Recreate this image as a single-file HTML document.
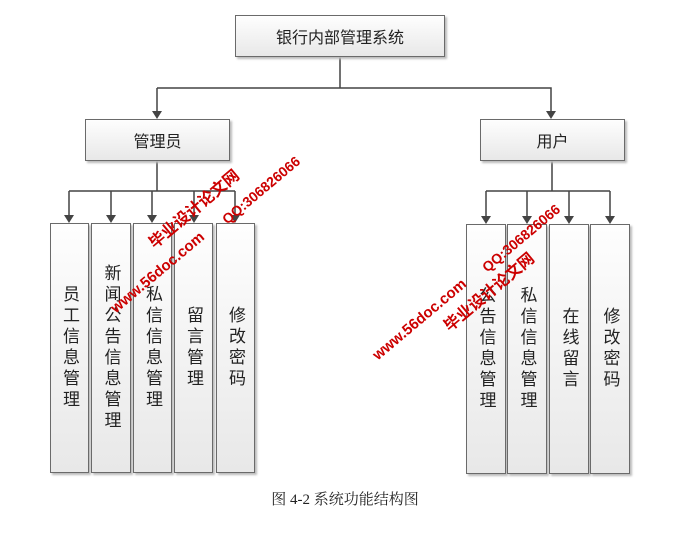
<!DOCTYPE html>
<html><head><meta charset="utf-8"><style>
body{margin:0;width:690px;height:533px;background:#fff;position:relative;overflow:hidden;font-family:"Liberation Sans","Noto Sans CJK SC",sans-serif;}
.b{position:absolute;box-sizing:border-box;border:1px solid #6a6a6a;background:linear-gradient(#fefefe,#e8e8e8);box-shadow:2px 2px 2px #bbb;display:flex;align-items:center;justify-content:center;color:#222;font-size:16px;}
.v{writing-mode:vertical-rl;text-orientation:upright;line-height:21px;letter-spacing:4px;font-size:17px;}
svg{position:absolute;left:0;top:0}
.w{position:absolute;color:#c00;font-weight:bold;transform:translate(-50%,-50%) rotate(-40deg);white-space:nowrap;font-size:16px;line-height:18px;}
.cap{position:absolute;top:488px;left:0;width:690px;text-align:center;font-family:"Liberation Serif","Noto Serif CJK SC",serif;font-size:15px;color:#222;}
</style></head><body>
<svg width="690" height="533">
<g stroke="#444" stroke-width="1.5" fill="none">
<path d="M340 57V88M157 88H551V112M157 88V112"/>
<path d="M157 161V191M69 191H235M69 191V216M111 191V216M152 191V216M194 191V216M235 191V216"/>
<path d="M552 161V191M486 191H610M486 191V217M527 191V217M569 191V217M610 191V217"/>
</g>
<g fill="#444">
<path d="M152 111h10l-5 8z M546 111h10l-5 8z"/>
<path d="M64 215h10l-5 8z M106 215h10l-5 8z M147 215h10l-5 8z M189 215h10l-5 8z M230 215h10l-5 8z"/>
<path d="M481 216h10l-5 8z M522 216h10l-5 8z M564 216h10l-5 8z M605 216h10l-5 8z"/>
</g>
</svg>
<div class="b" style="left:235px;top:15px;width:210px;height:42px">银行内部管理系统</div>
<div class="b" style="left:85px;top:119px;width:145px;height:42px">管理员</div>
<div class="b" style="left:480px;top:119px;width:145px;height:42px">用户</div>
<div class="b v" style="left:50px;top:223px;width:39px;height:250px">员工信息管理</div>
<div class="b v" style="left:91px;top:223px;width:40px;height:250px">新闻公告信息管理</div>
<div class="b v" style="left:133px;top:223px;width:39px;height:250px">私信信息管理</div>
<div class="b v" style="left:174px;top:223px;width:39px;height:250px">留言管理</div>
<div class="b v" style="left:216px;top:223px;width:39px;height:250px">修改密码</div>
<div class="b v" style="left:466px;top:224px;width:40px;height:250px">公告信息管理</div>
<div class="b v" style="left:507px;top:224px;width:40px;height:250px">私信信息管理</div>
<div class="b v" style="left:549px;top:224px;width:40px;height:250px">在线留言</div>
<div class="b v" style="left:590px;top:224px;width:40px;height:250px">修改密码</div>
<div class="w" style="left:158px;top:273px;font-size:15px">www.56doc.com</div>
<div class="w" style="left:195px;top:210px">毕业设计论文网</div>
<div class="w" style="left:261px;top:190px;font-size:14px">QQ:306826066</div>
<div class="w" style="left:420px;top:320px;font-size:15px">www.56doc.com</div>
<div class="w" style="left:490px;top:293px">毕业设计论文网</div>
<div class="w" style="left:521px;top:238px;font-size:14px">QQ:306826066</div>
<div class="cap">图 4-2 系统功能结构图</div>
</body></html>
